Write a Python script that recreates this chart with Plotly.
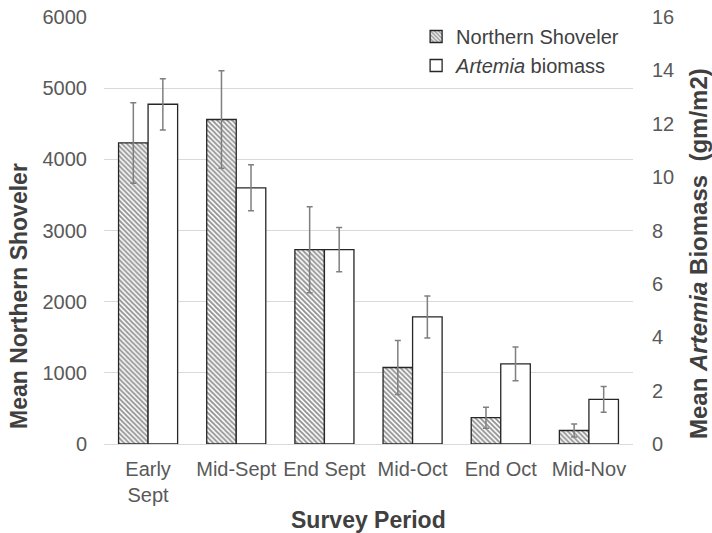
import plotly.graph_objects as go

periods = ["Early<br>Sept", "Mid-Sept", "End Sept", "Mid-Oct", "End Oct", "Mid-Nov"]
shoveler = [4230, 4560, 2730, 1075, 370, 190]
shoveler_err = [565, 685, 605, 380, 148, 90]
artemia = [12.73, 9.60, 7.28, 4.76, 3.00, 1.67]
artemia_err = [0.96, 0.86, 0.83, 0.79, 0.63, 0.48]

left_ticks = [0, 1000, 2000, 3000, 4000, 5000, 6000]
right_ticks = [0, 2, 4, 6, 8, 10, 12, 14, 16]

FONT = "Liberation Sans, Arial, sans-serif"
TICK_C = "#595959"
TITLE_C = "#404040"

fig = go.Figure()
fig.add_trace(go.Bar(
    x=periods, y=shoveler, name="Northern Shoveler", yaxis="y", offsetgroup="1",
    marker=dict(color="white", line=dict(color="#262626", width=1.3),
                pattern=dict(shape="\\", fgcolor="#262626", bgcolor="white", size=3.5, solidity=0.55)),
    error_y=dict(type="data", array=shoveler_err, color="#7f7f7f", thickness=1.5, width=3),
))
fig.add_trace(go.Bar(
    x=periods, y=artemia, name="<i>Artemia</i> biomass", yaxis="y2", offsetgroup="2",
    marker=dict(color="white", line=dict(color="#262626", width=1.3)),
    error_y=dict(type="data", array=artemia_err, color="#7f7f7f", thickness=1.5, width=3),
))

fig.update_layout(
    width=712, height=533,
    margin=dict(l=104, r=79, t=17, b=89),
    paper_bgcolor="white", plot_bgcolor="white",
    font=dict(family=FONT, size=20, color=TICK_C),
    barmode="group", bargap=0.33, bargroupgap=0,
    showlegend=True,
    legend=dict(x=0.59, y=1.0, xanchor="left", yanchor="top",
                font=dict(size=20, color=TITLE_C), bgcolor="rgba(0,0,0,0)",
                itemwidth=30, tracegroupgap=0),
    xaxis=dict(showgrid=False, showline=True, linecolor="#d9d9d9", linewidth=1,
               ticks="", tickfont=dict(size=20, color=TICK_C), ticklabelstandoff=7,
               automargin=False),
    yaxis=dict(range=[0, 6000], tickvals=left_ticks, showgrid=True, gridcolor="#d9d9d9",
               gridwidth=1, zeroline=False, showline=False, ticks="",
               tickfont=dict(size=20, color=TICK_C), ticklabelstandoff=16, automargin=False),
    yaxis2=dict(range=[0, 16], tickvals=right_ticks, overlaying="y", side="right",
                showgrid=False, zeroline=False, showline=False, ticks="",
                tickfont=dict(size=20, color=TICK_C), ticklabelstandoff=18, automargin=False),
    annotations=[
        dict(text="<b>Mean Northern Shoveler</b>", xref="paper", yref="paper",
             x=(19 - 104) / 529, y=(444 - 296) / 427, textangle=-90, showarrow=False,
             xanchor="center", yanchor="middle", font=dict(size=23, color=TITLE_C, family=FONT)),
        dict(text="<b>Mean <i>Artemia</i> Biomass  (gm/m2)</b>", xref="paper", yref="paper",
             x=(699 - 104) / 529, y=(444 - 254) / 427, textangle=-90, showarrow=False,
             xanchor="center", yanchor="middle", font=dict(size=24, color=TITLE_C, family=FONT)),
        dict(text="<b>Survey Period</b>", xref="paper", yref="paper",
             x=0.5, y=(444 - 520) / 427, showarrow=False,
             xanchor="center", yanchor="middle", font=dict(size=23, color=TITLE_C, family=FONT)),
    ],
)

fig.write_html("out.html")
